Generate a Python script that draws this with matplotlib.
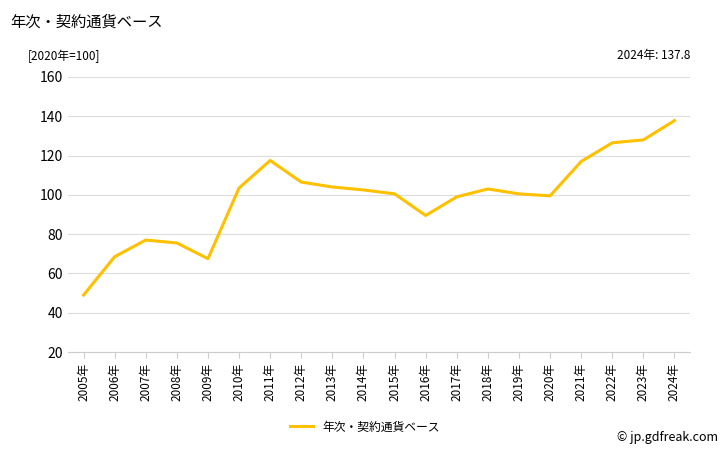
import matplotlib.pyplot as plt

plt.rcParams['font.family'] = ['Noto Sans CJK JP', 'DejaVu Sans']

years = [str(y) + '年' for y in range(2005, 2025)]
values = [49, 68.5, 77, 75.5, 67.5, 103.5, 117.5, 106.5, 104, 102.5,
          100.5, 89.5, 99, 103, 100.5, 99.5, 117, 126.5, 128, 137.8]

fig = plt.figure(figsize=(7.28, 4.5), dpi=100)
ax = fig.add_axes([68 / 728, 1 - 352 / 450, 622 / 728, 275 / 450])

x = range(len(years))
ax.plot(x, values, color='#ffc000', lw=2.2, label='年次・契約通貨ベース')
ax.set_xlim(-0.5, len(years) - 0.5)
ax.set_ylim(20, 160)
ax.set_yticks(range(20, 161, 20))
ax.set_xticks(list(x))
ax.set_xticklabels(years, rotation=90, fontsize=8.5)
ax.tick_params(axis='y', labelsize=10, length=0)
ax.tick_params(axis='x', length=4, color='#cccccc')
ax.grid(axis='y', color='#dddddd', lw=0.8)
for s in ['top', 'right', 'left']:
    ax.spines[s].set_visible(False)
ax.spines['bottom'].set_color('#cccccc')

fig.text(10 / 728, 1 - 22 / 450, '年次・契約通貨ベース', fontsize=11, va='center')
fig.text(28 / 728, 1 - 56 / 450, '[2020年=100]', fontsize=8.5, va='center')
fig.text(690 / 728, 1 - 56 / 450, '2024年: 137.8', fontsize=8.5, va='center', ha='right')
fig.text(718 / 728, 1 - 437 / 450, '© jp.gdfreak.com', fontsize=9, va='center', ha='right')
fig.legend(loc='center', bbox_to_anchor=(365 / 728, 1 - 427 / 450), frameon=False,
           fontsize=8.5, handlelength=2)

fig.savefig('out.png', dpi=100)
